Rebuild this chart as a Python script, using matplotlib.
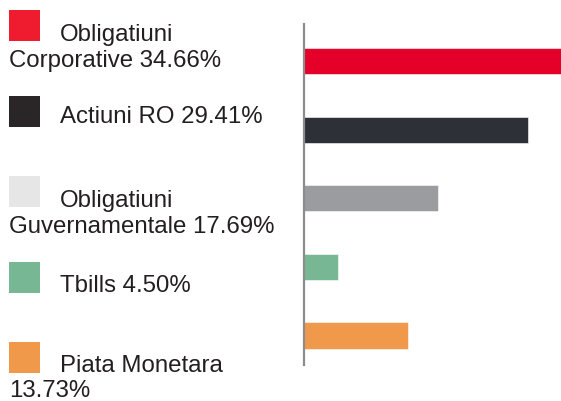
import matplotlib.pyplot as plt
from matplotlib.patches import Rectangle

# allocation per asset class (%)
categories = ["Obligatiuni Corporative", "Actiuni RO", "Obligatiuni Guvernamentale",
              "Tbills", "Piata Monetara"]
values = [34.66, 29.41, 17.69, 4.50, 13.73]
bar_colors = ["#e40028", "#2d3037", "#9b9c9f", "#77b793", "#f0994a"]
swatch_colors = ["#ee1c2e", "#2a2628", "#e6e6e6", "#77b793", "#f0994a"]
# legend text, one list of lines per category
legend_lines = [
    ["Obligatiuni", "Corporative 34.66%"],
    ["Actiuni RO 29.41%"],
    ["Obligatiuni", "Guvernamentale 17.69%"],
    ["Tbills 4.50%"],
    ["Piata Monetara", "13.73%"],
]

W, H = 561, 401
fig = plt.figure(figsize=(W / 100, H / 100), dpi=100)
plt.rcParams['font.family'] = ['Liberation Sans', 'DejaVu Sans']


def fx(px):
    return px / W


def fy(py):
    return 1 - py / H


ax = fig.add_axes([fx(303.5), fy(365), fx(W - 303.5), fy(24) - fy(365)])
ypos = list(range(len(values)))
ax.barh(ypos, values, height=0.38, color=bar_colors, edgecolor='white', linewidth=0.4)
ax.set_xlim(0, 33.8)
ax.set_ylim(len(values) - 1 + 0.43, -0.54)
for s in ['top', 'right', 'bottom']:
    ax.spines[s].set_visible(False)
ax.spines['left'].set_color('#8c8c8c')
ax.spines['left'].set_linewidth(1.6)
ax.set_xticks([])
ax.set_yticks([])

# legend block on the left
swatch_tops = [10, 96, 176, 262, 342]
baselines = [[41, 67], [123], [207, 233], [292], [372, 397]]
for top, col, lines, bases in zip(swatch_tops, swatch_colors, legend_lines, baselines):
    fig.patches.append(Rectangle((fx(9), fy(top + 31)), fx(31), fy(top) - fy(top + 31),
                                 transform=fig.transFigure, facecolor=col, edgecolor='none'))
    for i, (txt, b) in enumerate(zip(lines, bases)):
        x = 60 if i == 0 else 9
        fig.text(fx(x), fy(b), txt, fontsize=17.3, color='#231f20', va='baseline', ha='left')

fig.savefig('out.png', dpi=100)
